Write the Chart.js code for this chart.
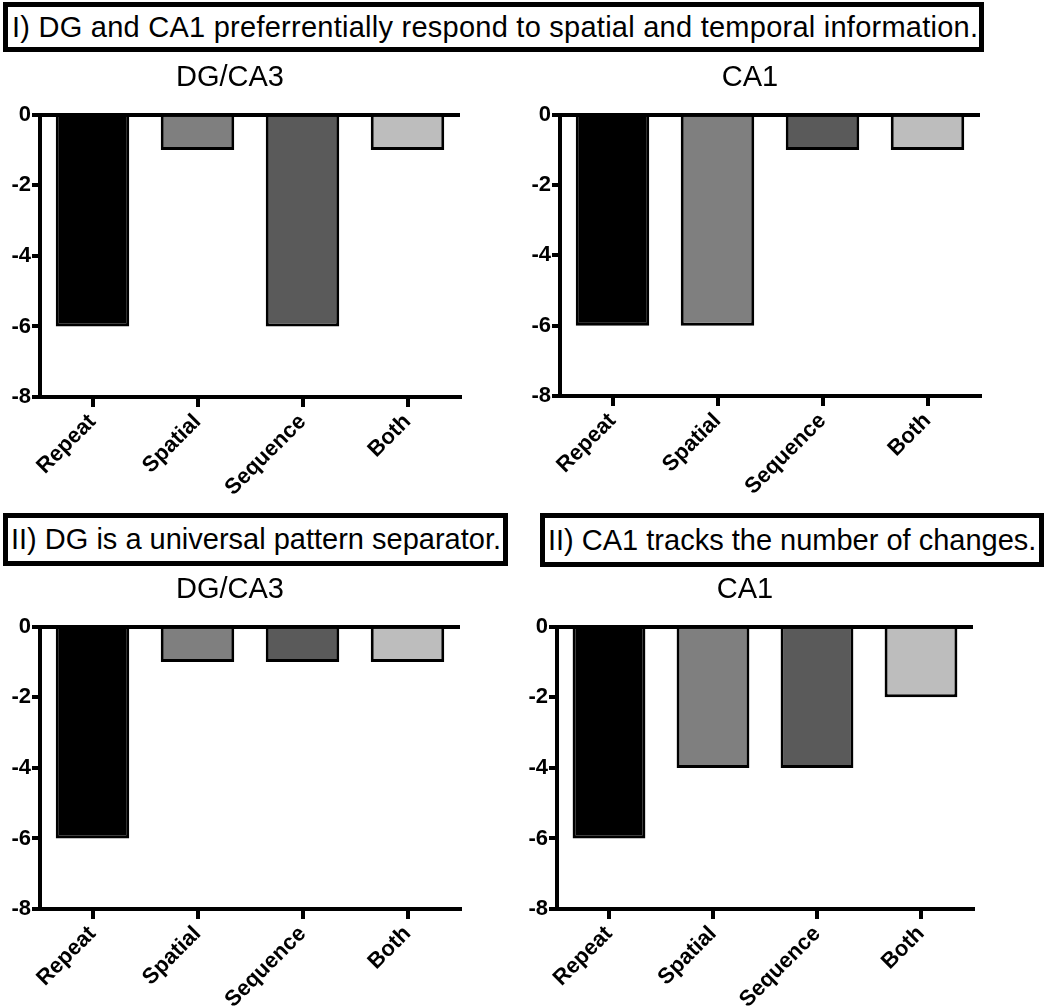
<!DOCTYPE html>
<html>
<head>
<meta charset="utf-8">
<script src="https://cdn.jsdelivr.net/npm/chart.js@4"></script>
<style>
  body { margin: 0; background: #fff; width: 1050px; height: 1007px; position: relative; overflow: hidden; }
  .box { position: absolute; border: 5px solid #000; box-sizing: border-box; background: #fff;
         font-family: "Liberation Sans", Arial, sans-serif; font-size: 29px; color: #000;
         display: flex; align-items: center; padding-left: 4px; white-space: nowrap; z-index: 2; }
  canvas { position: absolute; }
</style>
</head>
<body>
<div class="box" style="left:3px;top:2px;width:981px;height:50px;letter-spacing:0.25px;">I) DG and CA1 preferrentially respond to spatial and temporal information.</div>
<div class="box" style="left:3px;top:513px;width:505px;height:53px;padding-left:3px;">II) DG is a universal pattern separator.</div>
<div class="box" style="left:540px;top:513px;width:504px;height:54px;padding-left:3px;">II) CA1 tracks the number of changes.</div>

<canvas id="c1" width="490" height="445" style="left:0px;top:55px;"></canvas>
<canvas id="c2" width="490" height="445" style="left:520px;top:55px;"></canvas>
<canvas id="c3" width="490" height="440" style="left:0px;top:567px;"></canvas>
<canvas id="c4" width="486" height="440" style="left:517px;top:567px;"></canvas>

<script>
// categories and values
const categories = ["Repeat", "Spatial", "Sequence", "Both"];
const barColors = ["#000000", "#7f7f7f", "#5a5a5a", "#bdbdbd"];
const yTicks = [0, -2, -4, -6, -8];

const topLeftValues = [-6, -1, -6, -1];     // I) DG/CA3
const topRightValues = [-6, -6, -1, -1];    // I) CA1
const bottomLeftValues = [-6, -1, -1, -1];  // II) DG/CA3
const bottomRightValues = [-6, -4, -4, -2]; // II) CA1

const FONT = "'Liberation Sans', Arial, sans-serif";

function makeChart(id, title, values, xHeight) {
    const ctx = document.getElementById(id).getContext("2d");
    return new Chart(ctx, {
        type: "bar",
        data: {
            labels: categories,
            datasets: [{
                data: values,
                backgroundColor: barColors,
                borderColor: "#000",
                borderWidth: 3,
                borderSkipped: "start",
                categoryPercentage: 1,
                barPercentage: 0.7
            }]
        },
        options: {
            responsive: false,
            animation: false,
            layout: { padding: { left: 0, right: 30, top: 0, bottom: 0 } },
            plugins: {
                legend: { display: false },
                tooltip: { enabled: false },
                title: {
                    display: true,
                    text: title,
                    color: "#000",
                    font: { family: FONT, size: 29, weight: "normal", lineHeight: 1.2 },
                    padding: { top: 6, bottom: 19 }
                }
            },
            scales: {
                x: {
                    afterFit: s => { s.height = xHeight; },
                    border: { display: true, color: "#000", width: 4 },
                    grid: {
                        offset: false,
                        drawOnChartArea: false,
                        drawTicks: true,
                        tickLength: 10,
                        color: "#000",
                        lineWidth: 4
                    },
                    ticks: {
                        color: "#000",
                        minRotation: 45,
                        maxRotation: 45,
                        padding: 2,
                        font: { family: FONT, size: 22, weight: "bold" }
                    }
                },
                y: {
                    min: -8,
                    max: 0,
                    z: 1,
                    afterFit: s => { s.width = 40; },
                    afterBuildTicks: s => { s.ticks = yTicks.map(v => ({ value: v })); },
                    border: { display: true, color: "#000", width: 4 },
                    grid: {
                        drawOnChartArea: true,
                        drawTicks: true,
                        tickLength: 8,
                        tickColor: "#000",
                        lineWidth: 4,
                        color: c => (c.tick && c.tick.value === 0) ? "#000" : "rgba(0,0,0,0)"
                    },
                    ticks: {
                        color: "#000",
                        padding: 1,
                        font: { family: FONT, size: 22, weight: "bold" }
                    }
                }
            }
        }
    });
}

makeChart("c1", "DG/CA3", topLeftValues, 103);
makeChart("c2", "CA1", topRightValues, 104);
makeChart("c3", "DG/CA3", bottomLeftValues, 98);
makeChart("c4", "CA1", bottomRightValues, 98);
</script>
</body>
</html>
